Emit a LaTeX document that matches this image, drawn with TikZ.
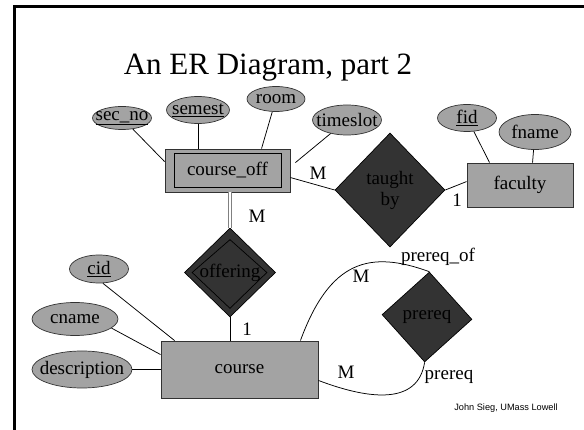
\documentclass[tikz,border=0pt]{standalone}
\usepackage{fontspec}
\usepackage{graphicx}
\setmainfont{Liberation Serif}
\newfontfamily\footfont{Liberation Sans}
\usetikzlibrary{shapes.geometric,calc}
\definecolor{attrgray}{RGB}{163,163,163}
\definecolor{reldark}{RGB}{51,51,51}
\definecolor{edgegray}{RGB}{50,50,50}
\begin{document}
\begin{tikzpicture}[x=1pt,y=-1pt,
  font=\fontsize{19}{21}\selectfont,
  attr/.style={ellipse, draw=edgegray, fill=attrgray, text=black, inner sep=0pt, line width=0.7pt},
  entity/.style={rectangle, draw=edgegray, fill=attrgray, text=black, inner sep=0pt, line width=0.9pt},
  rel/.style={diamond, draw=black, fill=reldark, text=black, inner sep=0pt, line width=0.7pt, align=center},
  conn/.style={draw=black, line width=0.75pt},
  thinline/.style={draw=black, line width=0.7pt},
  dbl/.style={draw=gray, double=white, double distance=2.4pt, line width=0.7pt},
  lab/.style={anchor=base, inner sep=0pt, text=black},
  frameline/.style={line width=2.8pt, draw=black}]
\useasboundingbox (0,0) rectangle (584,430);
\draw[frameline] (14.3,431) -- (14.3,6.7) -- (585,6.7);

\node[anchor=base, inner sep=0pt, font=\fontsize{31}{36}\selectfont] (title) at (268,75) {An ER Diagram, part 2};

% entities
\node[entity, minimum width=125pt, minimum height=43pt] (co) at (227.5,170.5) {course\_off};
\draw[thinline] ($(co.south west)+(10,-5)$) rectangle ($(co.north east)+(-9,5)$);
\node[entity, minimum width=106pt, minimum height=44pt] (fac) at (520,185) {faculty};
\node[entity, minimum width=157pt, minimum height=57pt] (course) at (239.5,369.5) {course};

% relationships
\node[rel, minimum width=110pt, minimum height=114pt] (taught) at (390,190) {taught\\by};
\node[rel, minimum width=91pt, minimum height=89pt] (off) at (230,272.5) {};
\draw[thinline] ($(off.north)+(0,12)$) -- ($(off.east)+(-9,0)$) -- ($(off.south)+(0,-9)$) -- ($(off.west)+(8,0)$) -- cycle;
\node[inner sep=0pt, text=black] (offtext) at (off.center) {offering};
\node[rel, minimum width=90pt, minimum height=90pt, rotate=-3] (pre) at (427,317) {\rotatebox{3}{prereq}};

% attributes
\node[attr, minimum width=59pt, minimum height=23pt] (secno) at (122,118) {\makebox[0pt]{\underline{sec\_no}}};
\node[attr, minimum width=63pt, minimum height=27pt] (semest) at (198,110) {\makebox[0pt]{\underline{semest}}};
\node[attr, minimum width=58pt, minimum height=25pt] (room) at (276,99) {\makebox[0pt]{room}};
\node[attr, minimum width=69pt, minimum height=30pt] (timeslot) at (347,120) {\makebox[0pt]{timeslot}};
\node[attr, minimum width=59pt, minimum height=27pt] (fid) at (467,118) {\makebox[0pt]{\underline{fid}}};
\node[attr, minimum width=72pt, minimum height=35pt] (fname) at (535,132) {\makebox[0pt]{fname}};
\node[attr, minimum width=59pt, minimum height=28pt] (cid) at (99,269) {\makebox[0pt]{\underline{cid}}};
\node[attr, minimum width=86pt, minimum height=33pt] (cname) at (75,319) {\makebox[0pt]{cname}};
\node[attr, minimum width=100pt, minimum height=37pt] (desc) at (82,369.5) {\makebox[0pt]{description}};

% connectors
\draw[conn] (secno) -- ($(co.north west)+(0,13)$);
\draw[conn] (semest) -- (semest |- co.north);
\draw[conn] (room) -- ($(co.north west)+(97,0)$);
\draw[conn] (timeslot) -- ($(co.north east)+(5,14)$);
\draw[conn] ($(co.north east)+(0,29)$) -- (taught.west);
\draw[conn] (taught.east) -- ($(fac.north west)+(0,19)$);
\draw[conn] (fid) -- ($(fac.north west)+(23,0)$);
\draw[conn] (fname) -- ($(fac.north west)+(66,0)$);
\draw[dbl] (off.north |- co.south) -- (off.north);
\draw[conn] (off.south) -- (off.south |- course.north);
\draw[conn] (cid.-75) -- ($(course.north west)+(14,0)$);
\draw[conn] (cname.-14) -- ($(course.north west)+(0,14)$);
\draw[conn] (desc) -- (desc -| course.west);
\draw[conn] ($(course.north east)+(-18,0)$) .. controls (330,260) and (370,250) .. (pre.north);
\draw[conn] ($(course.south east)+(0,-18)$) .. controls (370,400) and (418,405) .. (pre.south);

% labels
\node[lab] (m1) at (318,180) {M};
\node[lab] (one1) at (457,207) {1};
\node[lab] (m2) at (257,223) {M};
\node[lab] (one2) at (247,336) {1};
\node[lab] (m3) at (361,283) {M};
\node[lab] (preof) at (438,262) {prereq\_of};
\node[lab] (m4) at (346,379) {M};
\node[lab] (prel) at (449,380) {prereq};
\node[anchor=base, inner sep=0pt, font=\footfont\fontsize{9.2}{11}\selectfont] (foot) at (506,410) {John Sieg, UMass Lowell};
\end{tikzpicture}
\end{document}
